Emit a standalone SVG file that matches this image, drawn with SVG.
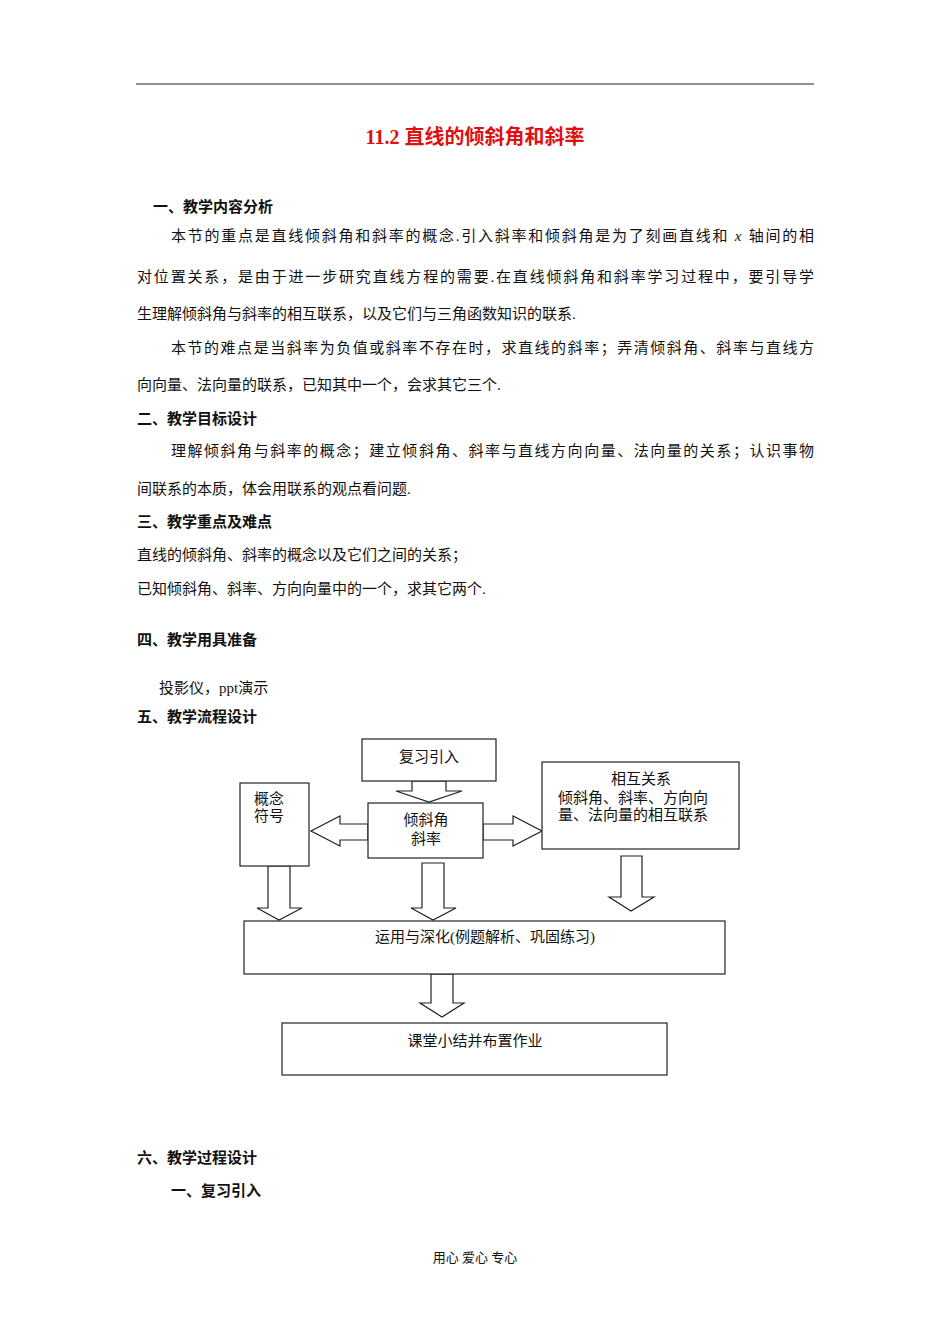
<svg xmlns="http://www.w3.org/2000/svg" width="950" height="1344" viewBox="0 0 950 1344">
<style>
text{font-family:"Liberation Serif","Noto Sans CJK SC",serif;font-size:15px;fill:#111}
.h{font-weight:bold}
.box{fill:#fff;stroke:#222;stroke-width:1.2}
.arr{fill:#fff;stroke:#222;stroke-width:1.2}
</style>
<rect width="950" height="1344" fill="#fff"/>
<line x1="136" y1="84" x2="814" y2="84" stroke="#222" stroke-width="1.2"/>
<text x="475" y="144" text-anchor="middle" style="font-size:20px;fill:#e01010" class="h">11.2 直线的倾斜角和斜率</text>
<text x="153" y="212" class="h">一、教学内容分析</text>
<text x="171" y="241" textLength="643" lengthAdjust="spacing">本节的重点是直线倾斜角和斜率的概念.引入斜率和倾斜角是为了刻画直线和 <tspan font-style="italic">x</tspan> 轴间的相</text>
<text x="137" y="282" textLength="677" lengthAdjust="spacing">对位置关系，是由于进一步研究直线方程的需要.在直线倾斜角和斜率学习过程中，要引导学</text>
<text x="137" y="319">生理解倾斜角与斜率的相互联系，以及它们与三角函数知识的联系.</text>
<text x="171" y="353" textLength="643" lengthAdjust="spacing">本节的难点是当斜率为负值或斜率不存在时，求直线的斜率；弄清倾斜角、斜率与直线方</text>
<text x="137" y="390">向向量、法向量的联系，已知其中一个，会求其它三个.</text>
<text x="137" y="424" class="h">二、教学目标设计</text>
<text x="171" y="456" textLength="643" lengthAdjust="spacing">理解倾斜角与斜率的概念；建立倾斜角、斜率与直线方向向量、法向量的关系；认识事物</text>
<text x="137" y="494">间联系的本质，体会用联系的观点看问题.</text>
<text x="137" y="527" class="h">三、教学重点及难点</text>
<text x="137" y="560">直线的倾斜角、斜率的概念以及它们之间的关系；</text>
<text x="137" y="594">已知倾斜角、斜率、方向向量中的一个，求其它两个.</text>
<text x="137" y="645" class="h">四、教学用具准备</text>
<text x="159" y="693">投影仪，ppt演示</text>
<text x="137" y="722" class="h">五、教学流程设计</text>

<g id="connectors">
<polygon class="arr" points="412,781 446,781 446,791 462,791 429,802 396,791 412,791"/>
<polygon class="arr" points="368,824 340,824 340,816 311,831 340,846 340,840 368,840"/>
<polygon class="arr" points="483,824 513,824 513,816 542,831 513,846 513,840 483,840"/>
<polygon class="arr" points="268,866 290,866 290,908 302,908 279,920 257,908 268,908"/>
<polygon class="arr" points="422,863 444,863 444,908 456,908 433,920 411,908 422,908"/>
<polygon class="arr" points="621,856 642,856 642,897 654,897 631,911 609,897 621,897"/>
<polygon class="arr" points="431,974 453,974 453,1003 464,1003 442,1017 420,1003 431,1003"/>
</g>
<g id="n-review"><rect class="box" x="362" y="739" width="134" height="42"/><text x="429" y="762" text-anchor="middle">复习引入</text></g>
<g id="n-center"><rect class="box" x="368" y="803" width="115" height="55"/><text x="426" y="825" text-anchor="middle">倾斜角</text><text x="426" y="844" text-anchor="middle">斜率</text></g>
<g id="n-concept"><rect class="box" x="240" y="783" width="69" height="83"/><text x="254" y="804">概念</text><text x="254" y="821">符号</text></g>
<g id="n-relation"><rect class="box" x="542" y="762" width="197" height="87"/><text x="641" y="784" text-anchor="middle">相互关系</text><text x="558" y="803">倾斜角、斜率、方向向</text><text x="558" y="820">量、法向量的相互联系</text></g>
<g id="n-apply"><rect class="box" x="244" y="921" width="481" height="53"/><text x="485" y="942" text-anchor="middle">运用与深化(例题解析、巩固练习)</text></g>
<g id="n-summary"><rect class="box" x="282" y="1023" width="385" height="52"/><text x="475" y="1046" text-anchor="middle">课堂小结并布置作业</text></g>

<text x="137" y="1163" class="h">六、教学过程设计</text>
<text x="171" y="1196" class="h">一、复习引入</text>
<text x="475" y="1262" text-anchor="middle" style="font-size:13px">用心  爱心  专心</text>
</svg>
